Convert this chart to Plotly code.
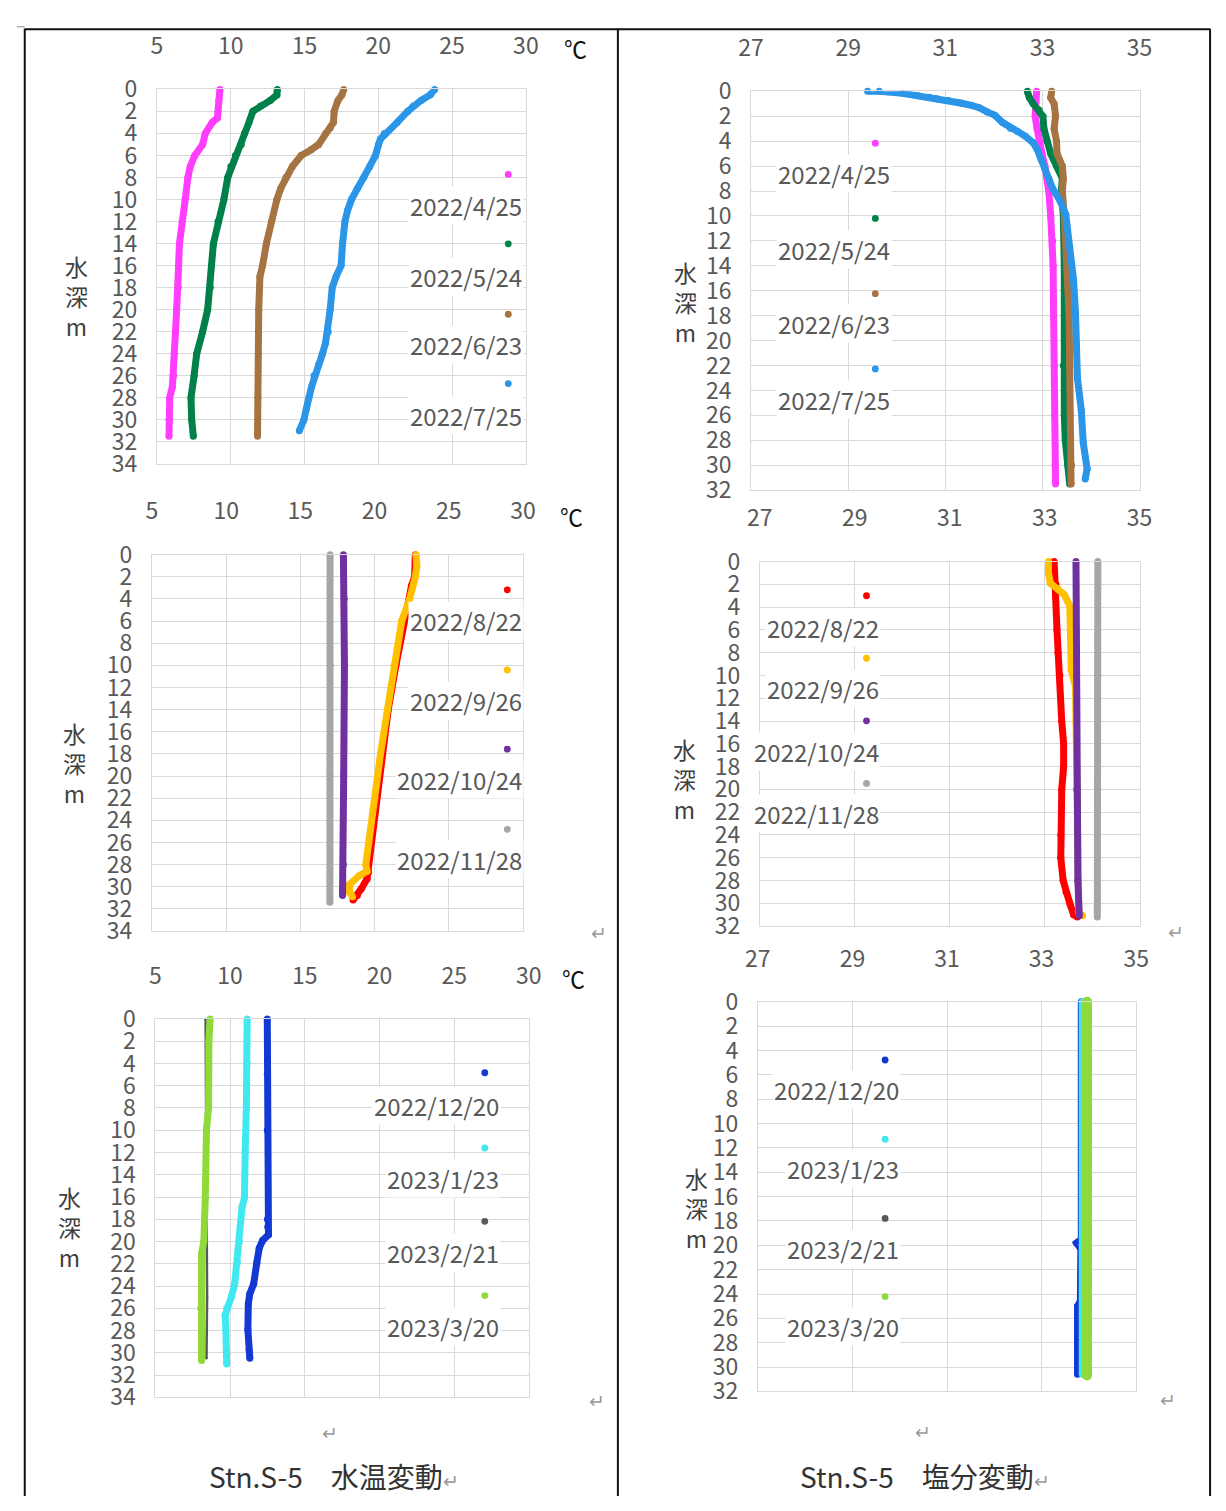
import plotly.graph_objects as go

W, H = 1226, 1511

# ---------------- DATA ----------------
# Panel 1: water temperature (Apr-Jul 2022)
names_1 = ["2022/4/25", "2022/5/24", "2022/6/23", "2022/7/25"]
d_0425 = [0, 1, 2, 2.6, 3, 4, 5, 6, 7, 8, 10, 12, 14, 16, 18, 20, 22, 24, 26, 27, 28, 30, 31.5]
t_0425 = [9.27, 9.2, 9.14, 9.1, 8.75, 8.28, 8.1, 7.57, 7.26, 7.1, 6.92, 6.71, 6.53, 6.47, 6.45, 6.34,
          6.26, 6.18, 6.13, 6.05, 5.87, 5.82, 5.82]
d_0524 = [0, 0.5, 1, 1.5, 2, 3, 4, 5, 6, 7, 8, 10, 12, 14, 16, 18, 20, 22, 24, 26, 28, 30, 31.5]
t_0524 = [13.16, 13.13, 12.68, 12.03, 11.5, 11.24, 10.93, 10.72, 10.32, 10.01, 9.8, 9.54, 9.14, 8.83,
          8.7, 8.62, 8.44, 8.1, 7.7, 7.52, 7.31, 7.36, 7.47]
d_0623 = [0, 0.5, 1, 2, 3, 3.5, 4, 5, 5.5, 6, 7, 8, 9, 10, 12, 14, 16, 17, 20, 24, 28, 31.5]
t_0623 = [17.66, 17.53, 17.27, 17.01, 16.96, 16.74, 16.43, 15.96, 15.43, 14.78, 14.18, 13.73, 13.39,
          13.13, 12.76, 12.42, 12.16, 11.98, 11.9, 11.87, 11.84, 11.82]
d_0725 = [0, 0.5, 1, 1.5, 2, 3, 4, 4.5, 5, 6, 7, 8, 9, 10, 11, 12, 14, 16, 17, 18, 20, 22, 23, 24, 25,
          26, 27, 28, 29, 30, 31]
t_0725 = [23.82, 23.51, 22.9, 22.38, 21.99, 21.28, 20.41, 20.15, 20.02, 19.81, 19.42, 19.02, 18.58,
          18.18, 17.92, 17.74, 17.58, 17.48, 17.14, 16.88, 16.74, 16.61, 16.43, 16.22, 15.96, 15.64,
          15.48, 15.3, 15.12, 14.96, 14.65]

# Panel 2: salinity (Apr-Jul 2022)
ds_0425 = [0, 1, 2, 3, 4, 5, 6, 7, 8, 10, 12, 14, 18, 22, 26, 30, 31.5]
s_0425 = [32.88, 32.85, 32.85, 32.89, 32.93, 32.99, 33.05, 33.1, 33.13, 33.17, 33.21, 33.22, 33.23,
          33.25, 33.25, 33.26, 33.27]
ds_0524 = [0, 0.5, 1, 1.5, 2, 3, 4, 5, 6, 7, 8, 10, 14, 18, 22, 26, 28, 30, 31.5]
s_0524 = [32.69, 32.73, 32.81, 32.93, 33.01, 33.03, 33.09, 33.17, 33.29, 33.41, 33.39, 33.43, 33.45,
          33.45, 33.43, 33.45, 33.47, 33.52, 33.56]
ds_0623 = [0, 0.5, 1, 2, 3, 4, 5, 6, 7, 8, 10, 14, 18, 22, 26, 30, 31.5]
s_0623 = [33.19, 33.17, 33.24, 33.27, 33.24, 33.29, 33.3, 33.41, 33.43, 33.41, 33.45, 33.51, 33.55,
          33.56, 33.57, 33.6, 33.59]
ds_0725 = [0, 0, 0.16, 0.34, 0.47, 0.6, 0.73, 0.94, 1.12, 1.31, 1.65, 1.91, 2.51, 2.96, 3.22, 3.61,
           4.13, 4.65, 5.44, 6.22, 7.0, 7.79, 8.84, 9.88, 12.5, 15.1, 17.7, 20.3, 23.0, 25.6, 28.2,
           30.3, 31.1]
s_0725 = [29.4, 29.64, 30.12, 30.43, 30.67, 30.83, 31.07, 31.31, 31.54, 31.7, 31.86, 32.02, 32.18,
          32.34, 32.49, 32.65, 32.81, 32.89, 32.97, 33.05, 33.13, 33.21, 33.37, 33.48, 33.56, 33.64,
          33.68, 33.7, 33.72, 33.8, 33.84, 33.92, 33.88]

# Panel 3: water temperature (Aug-Nov 2022)
names_3 = ["2022/8/22", "2022/9/26", "2022/10/24", "2022/11/28"]
d_0822 = [0, 2, 2.8, 6, 10, 14, 18, 22, 26, 28, 28.7, 29.3, 30.2, 30.8, 31.2]
t_0822 = [22.75, 22.7, 22.49, 21.97, 21.44, 20.92, 20.53, 20.14, 19.75, 19.57, 19.6, 19.49, 19.1,
          18.84, 18.55]
d_0926 = [0, 1, 2, 4, 6, 10, 14, 18, 22, 26, 28, 28.6, 29.0, 29.8, 30.5, 30.9]
t_0926 = [22.8, 22.85, 22.75, 22.36, 21.83, 21.31, 20.87, 20.4, 20.01, 19.62, 19.41, 19.49, 18.97,
          18.31, 18.31, 18.52]
d_1024 = [0, 4, 10, 20, 28, 30.8]
t_1024 = [17.9, 17.95, 17.97, 17.92, 17.9, 17.84]
d_1128 = [0, 10, 20, 31.4]
t_1128 = [17.0, 17.01, 17.0, 16.99]

# Panel 4: salinity (Aug-Nov 2022)
ds_0822 = [0, 2, 3, 6, 8, 10, 14, 16, 18, 20, 24, 26, 28, 29, 30, 31, 31.2]
s_0822 = [33.2, 33.24, 33.23, 33.26, 33.28, 33.32, 33.36, 33.4, 33.4, 33.36, 33.34, 33.34, 33.39,
          33.45, 33.53, 33.61, 33.69]
ds_0926 = [0, 1, 1.9, 2.4, 2.9, 3.9, 6, 9.5, 11, 14, 20, 28, 30.8, 31.1]
s_0926 = [33.08, 33.08, 33.12, 33.28, 33.41, 33.53, 33.55, 33.56, 33.65, 33.66, 33.67, 33.69, 33.72,
          33.8]
ds_1024 = [0, 10, 20, 28, 31.1]
s_1024 = [33.66, 33.67, 33.68, 33.7, 33.73]
ds_1128 = [0, 10, 20, 31.2]
s_1128 = [34.12, 34.12, 34.12, 34.11]

# Panel 5: water temperature (Dec 2022 - Mar 2023)
names_5 = ["2022/12/20", "2023/1/23", "2023/2/21", "2023/3/20"]
d_1220 = [0, 5, 10, 18, 18.7, 19.4, 19.9, 20.6, 21.9, 23.8, 24.7, 25.6, 27.9, 29.7, 30.5]
t_1220 = [12.49, 12.49, 12.49, 12.5, 12.52, 12.57, 12.18, 11.95, 11.79, 11.58, 11.32, 11.22, 11.19,
          11.27, 11.32]
d_0123 = [0, 4, 8, 12, 16.1, 16.9, 20, 21.9, 23.8, 24.9, 26, 26.6, 28, 30, 31]
t_0123 = [11.14, 11.14, 11.09, 11.01, 10.96, 10.8, 10.62, 10.49, 10.31, 10.1, 9.77, 9.67, 9.72, 9.77,
          9.77]
d_0221 = [0, 10, 20, 25, 30.5]
t_0221 = [8.36, 8.4, 8.45, 8.46, 8.42]
d_0320 = [0, 2, 8, 9.9, 16, 20, 21.1, 26, 29.7, 30.7]
t_0320 = [8.66, 8.58, 8.56, 8.42, 8.34, 8.24, 8.09, 8.03, 8.09, 8.09]

# Panel 6: salinity (Dec 2022 - Mar 2023)
ds_1220 = [0, 10, 19.5, 19.8, 20.3, 24.6, 25, 28, 30.6]
s_1220 = [33.84, 33.84, 33.84, 33.74, 33.83, 33.82, 33.76, 33.76, 33.76]
ds_0123 = [0, 10, 20, 30.6]
s_0123 = [33.86, 33.86, 33.86, 33.86]
ds_0221 = [0, 15, 30.6]
s_0221 = [33.95, 33.95, 33.95]
ds_0320 = [0, 10, 20, 30.7]
s_0320 = [33.96, 33.96, 33.96, 33.96]

temp_ticks = [5, 10, 15, 20, 25, 30]
sal_ticks = [27, 29, 31, 33, 35]

# ---------------- STYLE ----------------
C = {
    "2022/4/25": "#FF3DFF", "2022/5/24": "#00804A", "2022/6/23": "#A67443", "2022/7/25": "#2B95E8",
    "2022/8/22": "#FF0000", "2022/9/26": "#FFC000", "2022/10/24": "#7030A0", "2022/11/28": "#A6A6A6",
    "2022/12/20": "#1438D4", "2023/1/23": "#40E8F0", "2023/2/21": "#595959", "2023/3/20": "#8FD93A",
}
FONT = "Noto Sans CJK JP"
GRID = "#D9D9D9"
TXT = "#595959"
BASE_W = 7

def fx(px):
    return px / W

def fy(py):
    return 1 - py / H

# panel boxes: (left, right, top, bottom) in pixels
panels = [
    dict(box=(147, 524, 72, 455), xr=[5, 30], ticks=temp_ticks, yr=[34, 0],
         series=[(names_1[0], t_0425, d_0425), (names_1[1], t_0524, d_0524),
                 (names_1[2], t_0623, d_0623), (names_1[3], t_0725, d_0725)],
         widths={},
         leg_mx=506, leg_my=[159, 230, 302, 373], leg_lx=522, leg_ly=[191, 263, 333, 406],
         title=(65, 283), unit=(575, 30)),
    dict(box=(754, 1151, 74, 482), xr=[27, 35], ticks=sal_ticks, yr=[32, 0],
         series=[(names_1[0], s_0425, ds_0425), (names_1[1], s_0524, ds_0524),
                 (names_1[2], s_0623, ds_0623), (names_1[3], s_0725, ds_0725)],
         widths={},
         leg_mx=881, leg_my=[127, 204, 281, 358], leg_lx=898, leg_ly=[158, 236, 312, 389],
         title=(687, 290), unit=None),
    dict(box=(142, 521, 548, 933), xr=[5, 30], ticks=temp_ticks, yr=[34, 0],
         series=[(names_3[0], t_0822, d_0822), (names_3[1], t_0926, d_0926),
                 (names_3[2], t_1024, d_1024), (names_3[3], t_1128, d_1128)],
         widths={},
         leg_mx=505, leg_my=[584, 666, 747, 829], leg_lx=522, leg_ly=[615, 697, 778, 860],
         title=(63, 761), unit=(571, 508)),
    dict(box=(763, 1151, 555, 928), xr=[27, 35], ticks=sal_ticks, yr=[32, 0],
         series=[(names_3[0], s_0822, ds_0822), (names_3[1], s_0926, ds_0926),
                 (names_3[2], s_1024, ds_1024), (names_3[3], s_1128, ds_1128)],
         widths={},
         leg_mx=872, leg_my=[590, 654, 718, 782], leg_lx=887, leg_ly=[622, 685, 749, 813],
         title=(686, 778), unit=None),
    dict(box=(145.5, 527, 1023, 1410), xr=[5, 30], ticks=temp_ticks, yr=[34, 0],
         series=[(names_5[0], t_1220, d_1220), (names_5[1], t_0123, d_0123),
                 (names_5[2], t_0221, d_0221), (names_5[3], t_0320, d_0320)],
         widths={"2023/2/21": 2.5},
         leg_mx=482, leg_my=[1078, 1155, 1230, 1306], leg_lx=499, leg_ly=[1111, 1186, 1262, 1338],
         title=(58, 1236), unit=(573, 981)),
    dict(box=(761, 1147.5, 1005.5, 1404), xr=[27, 35], ticks=sal_ticks, yr=[32, 0],
         series=[(names_5[0], s_1220, ds_1220), (names_5[1], s_0123, ds_0123),
                 (names_5[2], s_0221, ds_0221), (names_5[3], s_0320, ds_0320)],
         widths={"2023/2/21": 2.5, "2023/3/20": 10},
         leg_mx=891, leg_my=[1065, 1146, 1227, 1307], leg_lx=907, leg_ly=[1095, 1176, 1258, 1338],
         title=(698, 1216), unit=None),
]

fig = go.Figure()
layout = dict(
    width=W, height=H, autosize=False,
    margin=dict(l=0, r=0, t=0, b=0, pad=0),
    paper_bgcolor="white", plot_bgcolor="white",
    showlegend=False,
    font=dict(family=FONT, size=23, color=TXT),
)
annotations = []
shapes = []

for i, p in enumerate(panels, start=1):
    L, R, T, B = p["box"]
    xa = "xaxis" if i == 1 else f"xaxis{i}"
    ya = "yaxis" if i == 1 else f"yaxis{i}"
    xref = "x" if i == 1 else f"x{i}"
    yref = "y" if i == 1 else f"y{i}"
    layout[xa] = dict(
        domain=[fx(L), fx(R)], anchor=yref, side="top", range=p["xr"],
        tickvals=p["ticks"], showgrid=True, gridcolor=GRID, gridwidth=1,
        zeroline=False, showline=True, mirror=True, linecolor=GRID, linewidth=1,
        ticks="outside", ticklen=25, tickcolor="rgba(0,0,0,0)",
        tickfont=dict(family=FONT, size=23, color=TXT),
    )
    layout[ya] = dict(
        domain=[fy(B), fy(T)], anchor=xref, range=p["yr"], dtick=2, tick0=0,
        showgrid=True, gridcolor=GRID, gridwidth=1,
        zeroline=False, showline=True, mirror=True, linecolor=GRID, linewidth=1,
        ticks="outside", ticklen=14, tickcolor="rgba(0,0,0,0)",
        tickfont=dict(family=FONT, size=23, color=TXT),
    )
    for name, xs, ys in p["series"]:
        col = C[name]
        w = p["widths"].get(name, BASE_W)
        fig.add_trace(go.Scatter(
            x=xs, y=ys, xaxis=xref, yaxis=yref, mode="lines+markers",
            line=dict(color=col, width=w), marker=dict(color=col, size=w),
            cliponaxis=False, name=name, hoverinfo="skip",
        ))
    # legend (dot above label, label on white box hiding gridlines)
    for (name, _, _), my, ly in zip(p["series"], p["leg_my"], p["leg_ly"]):
        r = 3.5
        shapes.append(dict(type="circle", xref="paper", yref="paper",
                           x0=fx(p["leg_mx"] - r), x1=fx(p["leg_mx"] + r),
                           y0=fy(my + r), y1=fy(my - r),
                           fillcolor=C[name], line=dict(width=0)))
        annotations.append(dict(text=name, xref="paper", yref="paper",
                                x=fx(p["leg_lx"]), y=fy(ly), xanchor="right", yanchor="middle",
                                showarrow=False, bgcolor="white", borderpad=1,
                                font=dict(family=FONT, size=24, color=TXT)))
    # vertical axis title
    tx, ty = p["title"]
    annotations.append(dict(text="水<br>深<br>m", xref="paper", yref="paper", x=fx(tx), y=fy(ty),
                            xanchor="center", yanchor="middle", showarrow=False, align="center",
                            font=dict(family=FONT, size=23, color="#404040")))
    if p["unit"]:
        ux, uy = p["unit"]
        annotations.append(dict(text="℃", xref="paper", yref="paper", x=fx(ux), y=fy(uy),
                                xanchor="center", yanchor="middle", showarrow=False,
                                font=dict(family=FONT, size=23, color="#111111")))

# paragraph marks
for (mx, my) in [(599, 933), (1188, 932), (597, 1412), (324, 1445), (1180, 1411), (930, 1444)]:
    annotations.append(dict(text="↵", xref="paper", yref="paper", x=fx(mx), y=fy(my),
                            xanchor="center", yanchor="middle", showarrow=False,
                            font=dict(family=FONT, size=19, color="#9A9A9A")))

# captions
for (cx, txt) in [(198, "Stn.S-5　水温変動"), (802, "Stn.S-5　塩分変動")]:
    annotations.append(dict(text=txt + "<span style='color:#9A9A9A;font-size:19px'>↵</span>",
                            xref="paper", yref="paper", x=fx(cx), y=fy(1491),
                            xanchor="left", yanchor="middle", showarrow=False,
                            font=dict(family=FONT, size=28, color="#333333")))

# table borders
for (x0, y0, x1, y1) in [(12, 10.5, 1223, 10.5), (12, 10, 12, H), (1223, 10, 1223, H), (618, 10, 618, H)]:
    shapes.append(dict(type="line", xref="paper", yref="paper", x0=fx(x0), y0=fy(y0), x1=fx(x1), y1=fy(y1),
                       line=dict(color="#111111", width=2)))
shapes.append(dict(type="line", xref="paper", yref="paper", x0=fx(4), y0=fy(8), x1=fx(12), y1=fy(8),
                   line=dict(color="#888888", width=1)))

layout["annotations"] = annotations
layout["shapes"] = shapes
fig.update_layout(**layout)
fig.write_html("out.html")
